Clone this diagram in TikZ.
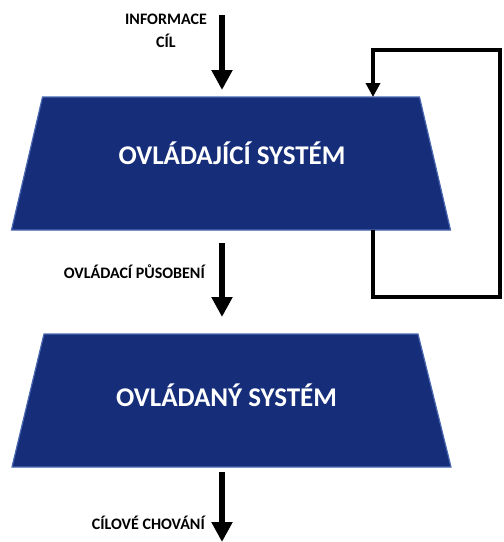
\documentclass[tikz,border=0pt]{standalone}
\usepackage{fontspec}
\setmainfont{Carlito}
\usetikzlibrary{arrows.meta,calc}
\definecolor{navy}{RGB}{22,46,122}
\definecolor{bevel}{RGB}{74,104,176}
\begin{document}
\begin{tikzpicture}[x=1pt,y=1pt,
  sysframe/.style={rectangle, minimum width=439pt, minimum height=133pt, inner sep=0pt, outer sep=0pt},
  trapfill/.style={fill=navy, draw=bevel, line width=1.2pt, line join=miter},
  systext/.style={text=white, font=\bfseries\fontsize{27}{30}\selectfont, inner sep=0pt},
  lbl/.style={font=\bfseries\fontsize{16}{23}\selectfont, inner sep=0pt, align=center},
  bigarrow/.style={line width=6.5pt, -{Triangle[width=20pt,length=20pt]}},
  fbline/.style={line width=3.5pt, -{Triangle[width=14pt,length=14pt]}}
]
\useasboundingbox (0,0) rectangle (504,-542);
\node[sysframe] (s1) at (231,-163.5) {};
\node[sysframe] (s2) at (231.5,-400.5) {};
\filldraw[trapfill] ($(s1.north west)+(31,0)$) -- ($(s1.north east)+(-31,0)$) -- (s1.south east) -- (s1.south west) -- cycle;
\filldraw[trapfill] ($(s2.north west)+(32,0)$) -- ($(s2.north east)+(-33,0)$) -- (s2.south east) -- (s2.south west) -- cycle;
\node[systext] (t1) at (232,-153) {OVLÁDAJÍCÍ SYSTÉM};
\node[systext] (t2) at (226.5,-395) {OVLÁDANÝ SYSTÉM};

\coordinate (in1) at (222,-15);
\coordinate (out) at (222,-542);
\draw[bigarrow, shorten >=7pt] (in1) -- (in1 |- s1.north);
\draw[bigarrow, shorten <=13pt, shorten >=17pt] (in1 |- s1.south) -- (in1 |- s2.north);
\draw[bigarrow, shorten <=5pt] (in1 |- s2.south) -- (out);

\coordinate (fbx) at (373,0);
\coordinate (fbbot) at (500,-297);
\coordinate (fbtop) at (500,-50);
\draw[fbline] (fbx |- s1.south) |- (fbbot) |- (fbx |- fbtop) -- (fbx |- s1.north);

\node[lbl] (l1) at (166,-31) {INFORMACE\\CÍL};
\node[lbl, anchor=east] (l2) at (205,-272) {OVLÁDACÍ PŮSOBENÍ};
\node[lbl, anchor=east] (l3) at (205,-523) {CÍLOVÉ CHOVÁNÍ};
\end{tikzpicture}
\end{document}
